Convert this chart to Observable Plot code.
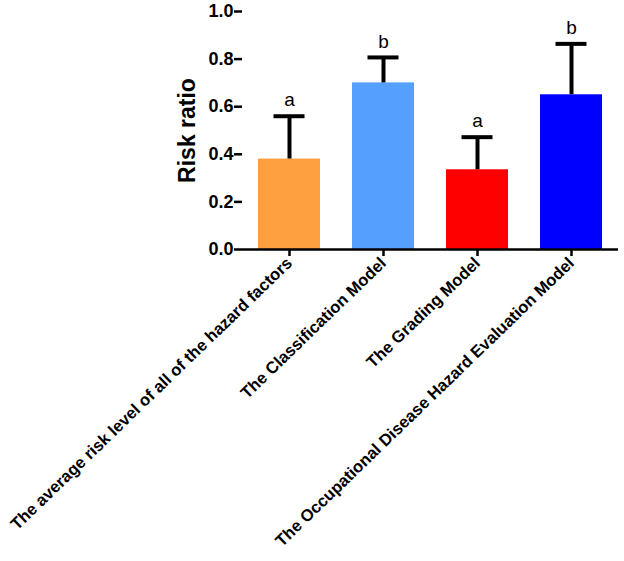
<!DOCTYPE html>
<html>
<head>
<meta charset="utf-8">
<script src="https://cdn.jsdelivr.net/npm/d3@7"></script>
<script src="https://cdn.jsdelivr.net/npm/@observablehq/plot@0.6"></script>
<style>
  html, body { margin: 0; padding: 0; background: #fff; }
  #chart svg { display: block; background: #fff; color: #000; }
</style>
</head>
<body>
<div id="chart"></div>
<script>
const categories = [
  "The average risk level of all of the hazard factors",
  "The Classification Model",
  "The Grading Model",
  "The Occupational Disease Hazard Evaluation Model"
];
const means = [0.38, 0.70, 0.335, 0.65];
const upper = [0.56, 0.807, 0.472, 0.864];
const letters = ["a", "b", "a", "b"];
const barColors = ["#ffa040", "#55a0ff", "#ff0000", "#0000ff"];
const yTicks = [0, 0.2, 0.4, 0.6, 0.8, 1.0];

const data = categories.map((c, i) => ({cat: c, mean: means[i], hi: upper[i], letter: letters[i]}));

const font = "'Liberation Sans', Arial, Helvetica, sans-serif";

const chart = Plot.plot({
  width: 624,
  height: 561,
  marginLeft: 242,
  marginRight: 6,
  marginTop: 11,
  marginBottom: 312,
  style: {fontFamily: font, background: "#fff", color: "#000", overflow: "visible"},
  x: {domain: categories, paddingInner: 0.34, paddingOuter: 0.17, label: null},
  y: {domain: [0, 1], label: null},
  color: {domain: categories, range: barColors},
  marks: [
    Plot.barY(data, {x: "cat", y: "mean", fill: "cat"}),
    Plot.ruleX(data, {x: "cat", y1: "mean", y2: "hi", stroke: "#000", strokeWidth: 4}),
    Plot.tickY(data, {x: "cat", y: "hi", stroke: "#000", strokeWidth: 4, insetLeft: 15.5, insetRight: 15.5}),
    Plot.text(data, {x: "cat", y: "hi", text: "letter", dy: -16, fontSize: 19, fill: "#000", fontFamily: font}),
    Plot.ruleY([0], {stroke: "#000", strokeWidth: 2.5}),
    Plot.axisY({
      ticks: yTicks, tickFormat: d3.format(".1f"), tickSize: 8, tickPadding: 1,
      strokeWidth: 2.5, line: true, fontSize: 18, fontWeight: "bold", fill: "#000", stroke: "#000",
      label: null
    }),
    Plot.axisX({
      tickSize: 7, strokeWidth: 2.5, tickRotate: -44, fontSize: 16.6, fontWeight: "bold",
      tickPadding: 4, fill: "#000", stroke: "#000", label: null
    }),
    Plot.text(["Risk ratio"], {
      frameAnchor: "left", textAnchor: "middle", dx: -55, rotate: -90, fontSize: 23, fontWeight: "bold", fill: "#000", fontFamily: font
    })
  ]
});
document.getElementById("chart").appendChild(chart);
</script>
</body>
</html>
